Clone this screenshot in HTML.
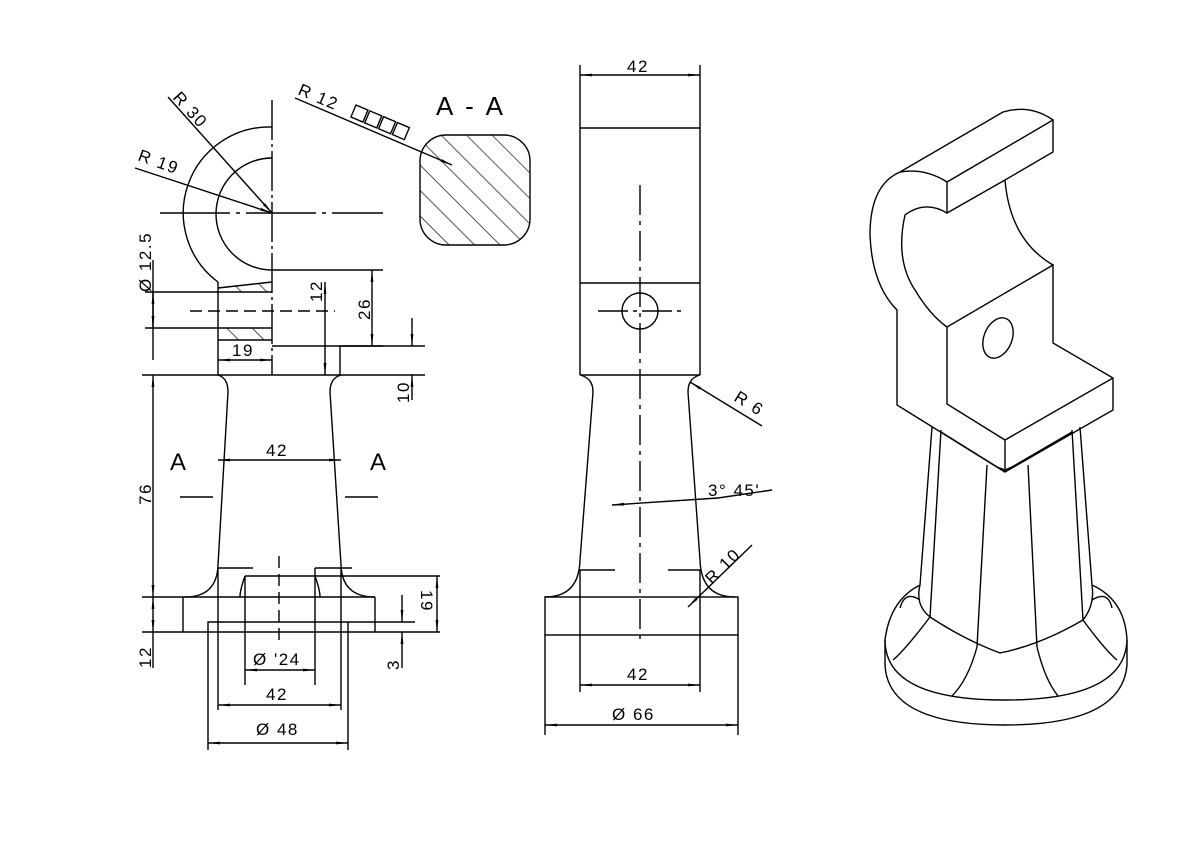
<!DOCTYPE html>
<html><head><meta charset="utf-8"><style>
html,body{margin:0;padding:0;background:#fff;}
svg{display:block}
text{font-family:"Liberation Sans",sans-serif;fill:#000;letter-spacing:1.5px}
</style></head><body>
<svg width="1200" height="844" viewBox="0 0 1200 844" xmlns="http://www.w3.org/2000/svg">
<defs>
<marker id="a" viewBox="0 0 12 4" refX="12" refY="2" markerWidth="12" markerHeight="4" orient="auto-start-reverse" markerUnits="userSpaceOnUse"><path d="M0,0.6 L12,2 L0,3.4z" fill="#000"/></marker>
<pattern id="h" width="18" height="18" patternUnits="userSpaceOnUse" patternTransform="rotate(-45)"><line x1="0" y1="0" x2="0" y2="18" stroke="#000" stroke-width="1.3"/></pattern>
</defs>
<g fill="none" stroke="#000" stroke-width="1.4">
<!-- LEFT VIEW -->
<line x1="272" y1="100" x2="272" y2="375" stroke-dasharray="40,4,3,4"/>
<path d="M272,127 A86,86 0 0 0 218,282"/>
<path d="M272,158 A55,55 0 0 0 272,270"/>
<line x1="160" y1="213" x2="383" y2="213" stroke-dasharray="70,6,4,6"/>
<line x1="272" y1="270" x2="383" y2="270"/>
<line x1="145" y1="292" x2="272" y2="292"/>
<line x1="145" y1="328" x2="272" y2="328"/>
<line x1="190" y1="311" x2="335" y2="311" stroke-dasharray="12,6"/>
<path d="M218,282 L218,375 M218,288 L272,282 M218,340 L272,340"/>
<path d="M222,288 L272,283 L272,292 L218,292z M218,328 L272,328 L272,340 L218,340z" fill="url(#h)" stroke="none"/>
<line x1="272" y1="346" x2="383" y2="346"/>
<path d="M340,375 L340,346 L425,346"/>
<line x1="142" y1="375" x2="425" y2="375"/>
<path d="M218,375 Q228,378 228,392 L218,565 Q217,597 185,597"/>
<path d="M341,375 Q330,378 330,392 L341,565 Q342,597 375,597"/>
<line x1="142" y1="597" x2="375" y2="597"/>
<path d="M183,597 L183,632 M375,597 L375,632"/>
<line x1="142" y1="632" x2="440" y2="632"/>
<line x1="245" y1="576" x2="440" y2="576"/>
<path d="M218,568 L253,568 M315,568 L352,568"/>
<path d="M245,576 Q240,590 240,597 M315,576 Q320,590 320,597"/>
<path d="M245,576 L245,685 M315,568 L315,685"/>
<path d="M218,568 L218,710 M341,568 L341,710"/>
<path d="M208,750 L208,622 L415,622 M348,622 L348,750"/>
<line x1="279" y1="556" x2="279" y2="640" stroke-dasharray="12,6"/>
<line x1="218" y1="460" x2="341" y2="460" marker-start="url(#a)" marker-end="url(#a)"/>
<path d="M180,497 L213,497 M345,497 L378,497"/>
<line x1="153" y1="375" x2="153" y2="597" marker-start="url(#a)" marker-end="url(#a)"/>
<line x1="153" y1="597" x2="153" y2="632" marker-start="url(#a)" marker-end="url(#a)"/>
<line x1="153" y1="632" x2="153" y2="668"/>
<line x1="153" y1="260" x2="153" y2="360"/>
<line x1="153" y1="292" x2="153" y2="328" marker-start="url(#a)" marker-end="url(#a)"/>
<line x1="325" y1="282" x2="325" y2="375" marker-start="url(#a)" marker-end="url(#a)"/>
<line x1="372" y1="270" x2="372" y2="346" marker-start="url(#a)" marker-end="url(#a)"/>
<line x1="412" y1="318" x2="412" y2="346" marker-end="url(#a)"/>
<line x1="412" y1="375" x2="412" y2="400" marker-start="url(#a)"/>
<line x1="437" y1="576" x2="437" y2="632" marker-start="url(#a)" marker-end="url(#a)"/>
<line x1="402" y1="595" x2="402" y2="622" marker-end="url(#a)"/>
<line x1="402" y1="632" x2="402" y2="668" marker-start="url(#a)"/>
<line x1="245" y1="670" x2="315" y2="670" marker-start="url(#a)" marker-end="url(#a)"/>
<line x1="218" y1="705" x2="341" y2="705" marker-start="url(#a)" marker-end="url(#a)"/>
<line x1="208" y1="743" x2="348" y2="743" marker-start="url(#a)" marker-end="url(#a)"/>
<line x1="218" y1="360" x2="272" y2="360" marker-start="url(#a)" marker-end="url(#a)"/>
<line x1="168" y1="97" x2="272" y2="213" marker-end="url(#a)"/>
<line x1="135" y1="168" x2="272" y2="213" marker-end="url(#a)"/>
<line x1="295" y1="98" x2="452" y2="165" marker-end="url(#a)"/>
<g transform="translate(356,105) rotate(23)"><rect x="0" y="0" width="13" height="13"/><rect x="15" y="0" width="13" height="13"/><rect x="30" y="0" width="13" height="13"/><rect x="45" y="0" width="13" height="13"/></g>
<rect x="420" y="135" width="110" height="110" rx="26" fill="url(#h)"/>
<!-- MIDDLE VIEW -->
<path d="M580,65 L580,375 M700,65 L700,375"/>
<line x1="580" y1="75" x2="700" y2="75" marker-start="url(#a)" marker-end="url(#a)"/>
<path d="M580,128 L700,128 M580,283 L700,283 M580,375 L700,375"/>
<circle cx="640" cy="311" r="18"/>
<line x1="598" y1="311" x2="682" y2="311" stroke-dasharray="30,5,4,5"/>
<line x1="640" y1="185" x2="640" y2="640" stroke-dasharray="30,6,4,6"/>
<path d="M580,375 Q593,378 593,392 L580,560 Q579,597 545,597"/>
<path d="M700,375 Q688,378 688,392 L700,560 Q701,597 735,597"/>
<rect x="545" y="597" width="193" height="38"/>
<path d="M580,570 L615,570 M668,570 L700,570 M580,570 L580,692 M700,570 L700,692 M545,635 L545,735 M738,635 L738,735"/>
<line x1="580" y1="685" x2="700" y2="685" marker-start="url(#a)" marker-end="url(#a)"/>
<line x1="545" y1="725" x2="738" y2="725" marker-start="url(#a)" marker-end="url(#a)"/>
<line x1="762" y1="426" x2="690" y2="382" marker-end="url(#a)"/>
<path d="M612,505 L718,498" marker-start="url(#a)"/>
<path d="M718,498 L772,490"/>
<line x1="752" y1="545" x2="688" y2="607" marker-end="url(#a)"/>
<!-- ISO VIEW -->
<path d="M900,172 L1003,112 Q1030,104 1053,120 L947,182 Q925,168 900,172z"/>
<path d="M947,182 L947,213 L1005,180 L1053,152 L1053,120"/>
<path d="M1005,180 Q1010,240 1053,265"/>
<path d="M947,213 Q925,200 905,215 Q895,260 915,290 Q930,315 947,327"/>
<path d="M900,172 Q870,185 870,235 Q872,285 897,310 L897,405 L1005,472 L1113,410 L1113,378 L1053,343 L1053,265 L947,327 L947,404 L1005,440 L1113,378"/>
<path d="M1005,440 L1005,472"/>
<ellipse cx="998" cy="338" rx="14" ry="21" transform="rotate(22 998 338)"/>
<path d="M932,427 L920,585 M941,430 L930,617 M987,465 L977,647 M1028,465 L1037,647 M1072,430 L1083,620 M1080,427 L1092,585"/>
<path d="M941,432 L997,467 L1005,470 L1012,467 L1072,432"/>
<path d="M920,585 Q915,605 930,617 Q965,640 1000,653 Q1040,645 1083,620 Q1095,605 1092,585"/>
<path d="M920,585 Q890,600 885,640 Q885,700 1005,700 Q1125,700 1127,640 Q1125,600 1092,585"/>
<path d="M885,640 L885,665 Q888,725 1005,725 Q1122,725 1127,665 L1127,640"/>
<path d="M930,617 Q905,650 893,660 M977,647 Q968,680 952,696 M1037,647 Q1045,680 1058,696 M1083,620 Q1105,650 1117,660"/>
<path d="M920,600 Q905,590 900,608 M1092,600 Q1108,590 1112,608"/>
</g>
<g style="font-size:17px">
<text x="170" y="470" style="font-size:24px">A</text>
<text x="370" y="470" style="font-size:24px">A</text>
<text x="266" y="456">42</text>
<text x="232" y="356">19</text>
<text x="436" y="115" style="font-size:26px;letter-spacing:3px">A - A</text>
<text transform="translate(151,505) rotate(-90)">76</text>
<text transform="translate(151,668) rotate(-90)">12</text>
<text transform="translate(151,292) rotate(-90)">Ø 12.5</text>
<text transform="translate(322,302) rotate(-90)">12</text>
<text transform="translate(370,320) rotate(-90)">26</text>
<text transform="translate(409,403) rotate(-90)">10</text>
<text transform="translate(421,590) rotate(90)">19</text>
<text transform="translate(399,670) rotate(-90)">3</text>
<text x="253" y="665">Ø '24</text>
<text x="266" y="700">42</text>
<text x="256" y="735">Ø  48</text>
<text transform="translate(172,98) rotate(48)">R 30</text>
<text transform="translate(137,160) rotate(20)">R 19</text>
<text transform="translate(297,94) rotate(23)">R 12</text>
<text x="627" y="72">42</text>
<text x="627" y="680">42</text>
<text x="612" y="720">Ø  66</text>
<text transform="translate(733,400) rotate(32)">R 6</text>
<text transform="translate(712,585) rotate(-45)">R 10</text>
<text x="708" y="496">3° 45'</text>
</g>
</svg>
</body></html>
